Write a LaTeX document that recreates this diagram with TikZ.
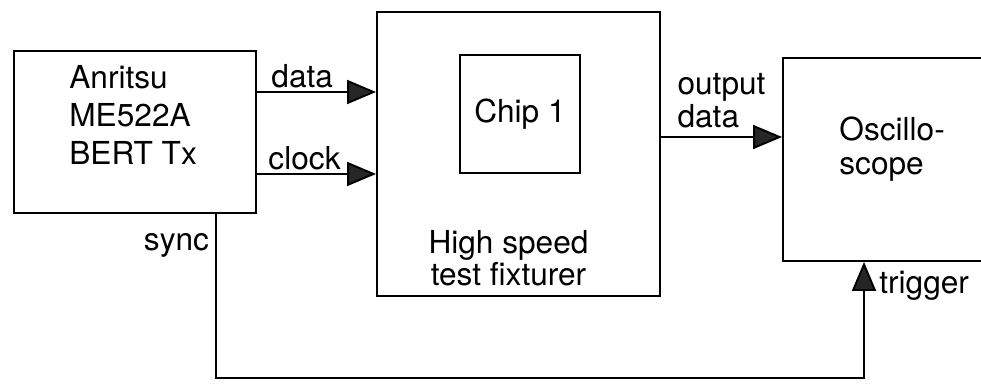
\documentclass[tikz,border=0pt]{standalone}
\usepackage{fontspec}
\setmainfont{TeX Gyre Heros}
\usetikzlibrary{shapes,arrows.meta,positioning,calc}

\begin{document}
\begin{tikzpicture}[
    x=0.02cm, y=-0.02cm,
    node distance=1.2cm,
    font={\fontsize{18}{21.6}\selectfont},
    block/.style={rectangle, draw, line width=1.1pt, inner sep=0pt},
    txt/.style={inner sep=0pt, align=left},
    lbl/.style={inner sep=1.5pt},
    wire/.style={line width=1.1pt},
    arrow/.style={line width=1.1pt, -{Triangle[length=0.58cm, width=0.48cm, fill=black!85]}}
]

\useasboundingbox (0,0) rectangle (981,384);
\clip (0,0) rectangle (981,384);

\node (bert) [block, minimum width=4.84cm, minimum height=3.24cm] at (135,132) {};
\node (fixture) [block, minimum width=5.66cm, minimum height=5.68cm] at (518.5,154) {};
\node (chip) [block, minimum width=2.4cm, minimum height=2.36cm] at (520,114) {Chip 1};
\node (scope) [block, minimum width=5cm, minimum height=4.06cm] at (908,159.5) {};

% Texts
\node (berttxt) [txt, below right=0.3cm and 1.12cm of bert.north west, font={\fontsize{18}{21.6}\selectfont}] {Anritsu\\ME522A\\BERT Tx};
\node (fixtxt) [txt, align=center, above=0.22cm of fixture.south, xshift=-0.2cm, font={\fontsize{18}{18.2}\selectfont}] {High speed\\test fixturer};
\node (scopetxt) [txt, below right=1.18cm and 1.14cm of scope.north west, font={\fontsize{18}{19.9}\selectfont}] {Oscillo-\\scope};

\coordinate (dataout) at ([yshift=0.8cm]bert.east);
\coordinate (clkout) at ([yshift=-0.84cm]bert.east);
\coordinate (fixout) at ([yshift=0.34cm]fixture.east);
\coordinate (syncout) at ([xshift=1.62cm]bert.south);
\coordinate (trigin) at ([xshift=-0.88cm]scope.south);

% Arrows
\draw[arrow] (dataout) -- node[lbl, above, pos=0.38] {data} (dataout -| fixture.west);
\draw[arrow] (clkout) -- node[lbl, above, pos=0.4] {clock} (clkout -| fixture.west);
\draw[arrow] (fixout) -- node[above, align=left, inner sep=0.16cm, font={\fontsize{18}{19}\selectfont}] {output\\data} (fixout -| scope.west);
\draw[arrow] (syncout) -- node[pos=0.22, anchor=base east, inner sep=0pt, xshift=-0.12cm] {sync} ++(0,164) -| (trigin);
\node (triglbl) [anchor=base west, inner sep=0pt] at ([xshift=0.3cm, yshift=-0.64cm]trigin) {trigger};

\end{tikzpicture}
\end{document}
